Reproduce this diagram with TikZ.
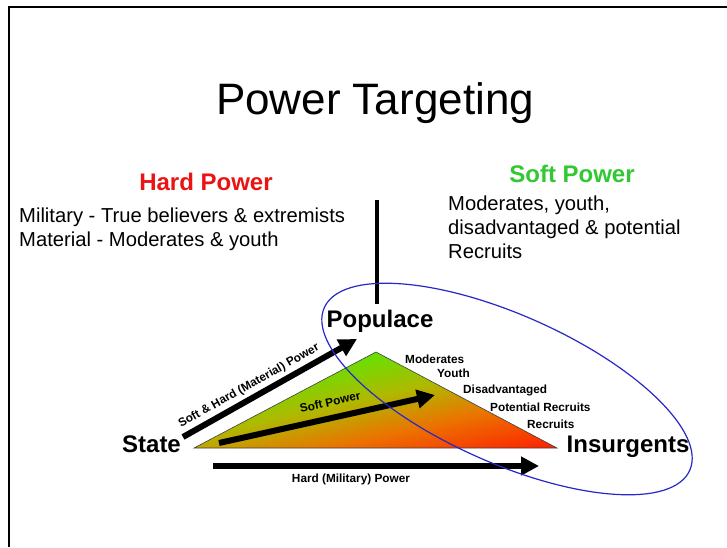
\documentclass[tikz,border=0pt]{standalone}
\usepackage{fontspec}
\setmainfont{Liberation Sans}
\usetikzlibrary{arrows.meta}
\definecolor{hardred}{RGB}{235,20,20}
\definecolor{softgreen}{RGB}{50,200,50}
\definecolor{ellblue}{RGB}{40,40,200}
\definecolor{triG}{RGB}{100,225,0}
\definecolor{triYG}{RGB}{175,185,0}
\definecolor{triO}{RGB}{235,115,0}
\definecolor{triR}{RGB}{255,30,0}
\pgfdeclareverticalshading{trishade}{100bp}{color(0bp)=(triR); color(25bp)=(triR); color(44bp)=(triO); color(59bp)=(triYG); color(75bp)=(triG); color(100bp)=(triG)}
\begin{document}
\begin{tikzpicture}[x=1pt,y=-1pt,
  frameline/.style={line width=2pt},
  arr/.style={line width=6pt, -{Triangle[length=18pt,width=18pt]}},
  big/.style={font=\fontsize{24}{28}\selectfont\bfseries, inner sep=0pt, anchor=base},
  body/.style={font=\fontsize{20.2}{24}\selectfont, inner sep=0pt, anchor=base west},
  small/.style={font=\fontsize{11.8}{13}\selectfont\bfseries, inner sep=0pt},
]
\useasboundingbox (0,0) rectangle (727,547);
\fill[white] (0,0) rectangle (727,547);
\draw[frameline] (9,547) -- (9,7) -- (727,7);

% title
\node[font=\fontsize{44}{50}\selectfont, inner sep=0pt, anchor=base] (title) at (375,114) {Power Targeting};

% hard power
\node[big, text=hardred] (hardpower) at (206,190) {Hard Power};
\node[body] (hard1) at (19,222) {Military - True believers \& extremists};
\node[body] (hard2) at (19,246) {Material - Moderates \& youth};

% soft power
\node[big, text=softgreen] (softpower) at (572,182) {Soft Power};
\node[body] (soft1) at (448,210) {Moderates, youth,};
\node[body] (soft2) at (448,234) {disadvantaged \& potential};
\node[body] (soft3) at (448,258) {Recruits};

% triangle
\coordinate (apex) at (376,352);
\coordinate (tl) at (194,448);
\coordinate (tr) at (557,448);
\begin{scope}
\clip (tl) -- (apex) -- (tr) -- cycle;
\begin{scope}[transform canvas={rotate around={12.8:(376,352)}}]
\shade[shading=trishade] (76,352) rectangle (676,486);
\end{scope}
\end{scope}
\draw[black!75, line width=0.6pt] (tl) -- (apex) -- (tr) -- cycle;

% main nodes
\node[big] (populace) at (380,327) {Populace};
\node[big] (state) at (151.5,452) {State};
\node[big] (insurgents) at (628,452) {Insurgents};

\coordinate (vtop) at (377,200);
\coordinate (vbot) at (377,304);
\draw[line width=4pt] (vtop) -- (vbot);

% labels along hypotenuse
\node[small, anchor=base west] (mod) at (405,363) {Moderates};
\node[small, anchor=base west] (youth) at (437,377) {Youth};
\node[small, anchor=base west] (disadv) at (463,393) {Disadvantaged};
\node[small, anchor=base west] (potrec) at (490,411) {Potential Recruits};
\node[small, anchor=base west] (rec) at (527,428) {Recruits};

% arrows
\coordinate (a1s) at (183,437);
\coordinate (a1e) at (357,339);
\coordinate (a2s) at (219,443);
\coordinate (a2e) at (435,395);
\coordinate (a3s) at (213,466);
\coordinate (a3e) at (539,466);
\draw[arr] (a1s) -- (a1e);
\draw[arr] (a2s) -- (a2e);
\draw[arr] (a3s) -- (a3e);
\node[small, rotate=29.4] (lab1) at (249,386) {Soft \& Hard (Material) Power};
\node[small, rotate=12.5] (lab2) at (330,402) {Soft Power};
\node[small, anchor=base] (lab3) at (351,482) {Hard (Military) Power};

% ellipse
\draw[ellblue, line width=1.2pt, rotate around={-24:(507,389)}] (507,389) ellipse [x radius=200pt, y radius=74pt];
\end{tikzpicture}
\end{document}
